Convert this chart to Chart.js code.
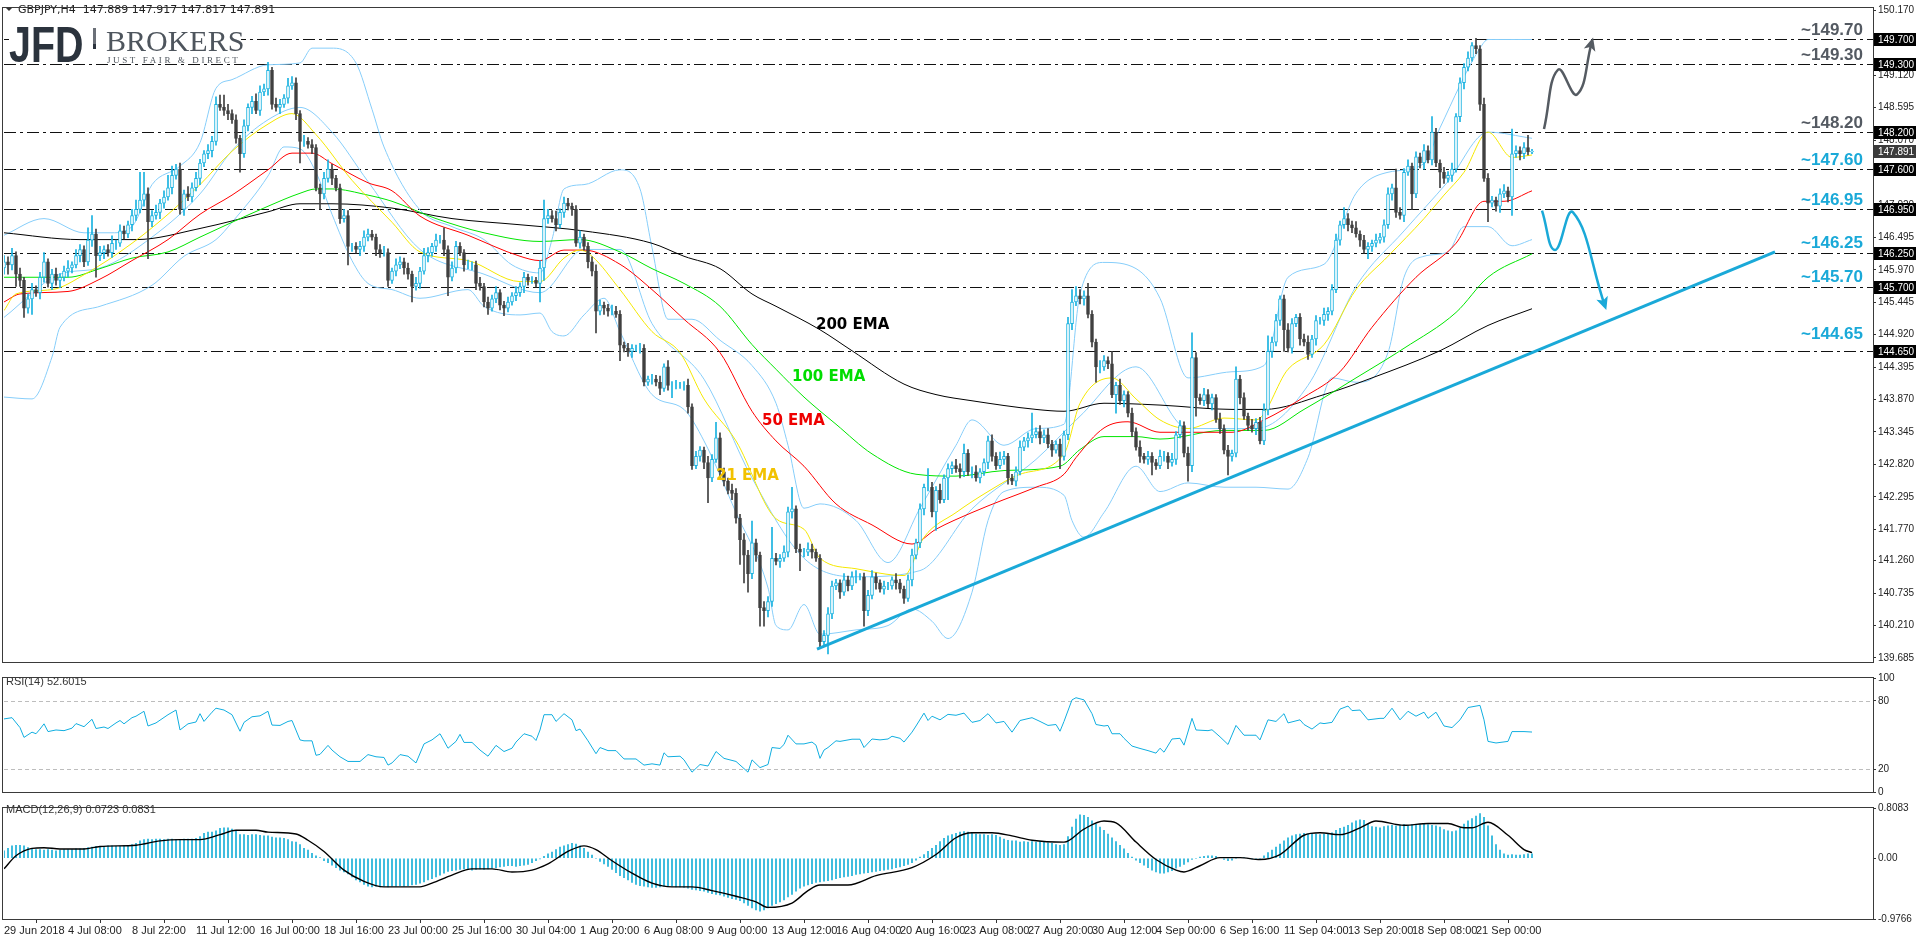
<!DOCTYPE html>
<html><head><meta charset="utf-8">
<script src="https://cdn.jsdelivr.net/npm/chart.js@4/dist/chart.umd.min.js"></script>
<style>
html,body{margin:0;padding:0;background:#fff;width:1916px;height:936px;overflow:hidden}
canvas{position:absolute;left:0}
</style></head><body>
<canvas id="cMain" width="1916" height="670" style="top:0"></canvas>
<canvas id="cRsi" width="1916" height="130" style="top:670px"></canvas>
<canvas id="cMacd" width="1916" height="136" style="top:800px"></canvas>
<script>
// ---------------- DATA ----------------
const firstOpen = 146.00;
const closes = [
146.10,146.05,146.20,145.90,145.80,145.35,145.50,145.65,145.60,145.85,146.10,145.75,145.90,145.80,145.85,145.95,146.00,146.05,146.20,146.30,
146.10,146.45,146.55,146.20,146.25,146.30,146.25,146.40,146.40,146.60,146.55,146.70,146.85,146.95,147.10,147.20,146.75,146.85,146.90,147.05,
147.15,147.30,147.50,147.60,146.95,147.20,147.15,147.30,147.45,147.70,147.85,147.90,148.05,148.65,148.60,148.55,148.50,148.40,148.10,147.85,
148.30,148.60,148.70,148.55,148.85,148.90,149.20,148.65,148.60,148.65,148.75,148.95,149.00,148.50,148.05,148.05,148.00,147.95,147.30,147.20,
147.45,147.60,147.45,147.30,146.80,146.85,146.35,146.35,146.30,146.35,146.50,146.55,146.50,146.30,146.25,146.25,145.80,145.95,146.05,146.10,
146.00,145.90,145.70,145.75,145.95,146.20,146.25,146.35,146.45,146.45,146.30,145.85,146.00,146.35,146.25,146.05,146.05,146.05,145.75,145.70,
145.45,145.35,145.50,145.60,145.40,145.35,145.45,145.55,145.60,145.70,145.85,145.80,145.80,145.75,146.00,146.80,146.85,146.80,146.70,146.90,
147.05,147.00,146.95,146.40,146.50,146.35,146.10,145.95,145.30,145.40,145.35,145.30,145.30,145.25,144.75,144.70,144.65,144.70,144.70,144.70,
144.15,144.20,144.20,144.15,144.05,144.40,144.10,144.10,144.10,144.10,144.10,143.75,142.80,142.95,143.05,142.85,142.60,142.90,143.25,142.70,
142.55,142.40,142.35,141.95,141.60,141.35,141.05,141.55,141.35,140.50,140.45,140.60,141.30,141.25,141.30,141.40,142.05,142.10,141.45,141.40,
141.40,141.45,141.40,141.30,139.95,140.05,140.40,140.85,140.90,140.75,140.95,140.85,141.00,141.00,141.00,140.45,140.70,141.00,140.90,140.80,
140.85,140.85,140.95,140.90,140.80,140.65,140.95,141.35,141.55,142.10,142.45,142.45,142.05,142.40,142.25,142.60,142.75,142.80,142.75,142.70,
143.00,142.70,142.70,142.60,142.70,142.85,143.20,142.95,142.80,142.90,142.95,142.60,142.55,142.70,143.10,143.20,143.25,143.30,143.35,143.25,
143.30,143.15,143.05,143.15,142.95,143.30,145.10,145.45,145.55,145.50,145.55,145.25,144.80,144.40,144.40,144.50,144.45,143.95,144.10,143.85,
143.95,143.65,143.35,143.10,142.95,142.90,142.95,142.85,142.80,142.95,142.95,142.85,142.90,143.30,143.45,143.00,142.80,144.55,143.90,143.85,
143.95,143.80,143.90,143.55,143.40,143.05,142.95,143.00,144.20,143.90,143.60,143.45,143.40,143.50,143.20,143.70,144.65,144.80,145.15,145.50,
145.00,144.70,145.10,145.20,144.85,144.80,144.60,144.85,145.15,145.15,145.25,145.30,145.65,146.45,146.70,146.80,146.70,146.65,146.55,146.45,
146.30,146.35,146.40,146.45,146.50,146.70,147.20,147.30,146.90,146.85,147.55,147.65,147.20,147.80,147.70,147.90,147.75,148.20,147.70,147.55,
147.45,147.50,147.60,148.45,149.00,149.25,149.40,149.60,149.55,148.65,147.45,147.05,147.10,147.00,147.20,147.25,147.15,147.85,147.90,147.85,
147.95,147.88,147.891];
const wickUp = [
.10,.08,.12,.06,.10,.05,.08,.10,.06,.08,.15,.05,.08,.10,.06,.08,.12,.05,.10,.08,
.06,.20,.30,.08,.10,.06,.08,.12,.05,.10,.08,.06,.10,.15,.45,.35,.10,.08,.12,.06,
.10,.20,.15,.08,.10,.06,.12,.08,.10,.06,.05,.10,.08,.12,.15,.20,.10,.06,.08,.05,
.10,.06,.08,.12,.10,.08,.13,.05,.10,.08,.06,.12,.10,.08,.05,.10,.06,.08,.05,.06,
.10,.15,.08,.05,.06,.10,.08,.05,.06,.08,.10,.08,.06,.05,.08,.10,.06,.05,.10,.08,
.06,.08,.05,.10,.06,.12,.08,.05,.10,.08,.20,.06,.10,.08,.06,.05,.08,.05,.06,.10,
.05,.08,.06,.10,.05,.06,.08,.05,.10,.06,.08,.05,.06,.05,.12,.30,.10,.08,.12,.06,
.10,.08,.05,.06,.10,.05,.06,.08,.10,.08,.05,.06,.10,.08,.06,.05,.08,.06,.05,.08,
.06,.05,.08,.06,.10,.05,.10,.06,.08,.05,.06,.10,.05,.08,.06,.05,.10,.08,.25,.08,
.06,.05,.10,.08,.06,.10,.08,.35,.06,.05,.10,.08,.50,.08,.06,.10,.08,.35,.05,.08,
.06,.10,.08,.05,.06,.08,.10,.08,.06,.05,.10,.06,.08,.10,.05,.06,.08,.10,.06,.05,
.08,.06,.05,.10,.06,.05,.08,.10,.06,.08,.05,.30,.08,.06,.10,.05,.08,.06,.10,.08,
.15,.06,.08,.10,.05,.06,.08,.10,.06,.12,.08,.05,.06,.08,.10,.06,.08,.35,.06,.10,
.08,.10,.06,.05,.08,.06,.10,.20,.15,.10,.08,.20,.06,.05,.10,.08,.06,.20,.05,.10,
.06,.05,.08,.06,.10,.05,.08,.06,.05,.10,.08,.06,.10,.05,.08,.06,.10,.40,.08,.06,
.10,.08,.06,.05,.10,.06,.08,.05,.20,.06,.08,.05,.10,.06,.08,.10,.25,.08,.10,.05,
.06,.10,.08,.05,.06,.08,.10,.06,.08,.05,.10,.06,.08,.10,.06,.18,.08,.06,.10,.05,
.08,.06,.05,.10,.06,.08,.10,.06,.30,.08,.06,.10,.05,.08,.06,.10,.08,.25,.06,.05,
.08,.06,.10,.05,.08,.06,.10,.05,.12,.05,.10,.08,.06,.05,.08,.10,.06,.40,.08,.06,
.08,.20,.03];
const wickDn = [
.10,.15,.08,.20,.10,.15,.08,.25,.06,.10,.08,.06,.10,.08,.12,.06,.10,.08,.05,.10,
.08,.06,.10,.35,.08,.10,.06,.08,.10,.05,.08,.06,.10,.08,.06,.10,.60,.08,.06,.10,
.08,.05,.10,.06,.08,.10,.06,.08,.05,.10,.06,.08,.10,.06,.05,.08,.10,.06,.08,.30,
.06,.08,.10,.05,.08,.06,.10,.08,.06,.10,.05,.08,.06,.10,.35,.08,.06,.10,.05,.25,
.08,.06,.10,.05,.08,.06,.30,.08,.06,.10,.08,.06,.05,.10,.08,.06,.10,.05,.08,.06,
.10,.08,.25,.06,.08,.05,.10,.06,.08,.05,.10,.30,.06,.08,.05,.10,.06,.08,.10,.06,
.08,.10,.05,.06,.08,.12,.06,.05,.08,.06,.10,.08,.05,.06,.30,.20,.08,.06,.10,.05,
.08,.06,.10,.05,.08,.06,.10,.08,.35,.06,.10,.08,.06,.05,.25,.06,.08,.10,.05,.08,
.06,.05,.08,.06,.10,.05,.08,.20,.06,.05,.08,.10,.06,.05,.08,.10,.40,.06,.05,.10,
.08,.06,.10,.08,.40,.45,.30,.08,.10,.30,.25,.10,.08,.06,.10,.05,.08,.10,.06,.30,
.08,.06,.10,.05,.10,.06,.30,.08,.06,.10,.05,.08,.06,.10,.05,.25,.08,.06,.10,.05,
.08,.06,.05,.10,.06,.08,.05,.10,.06,.08,.10,.06,.08,.30,.06,.05,.35,.08,.06,.10,
.08,.06,.10,.05,.08,.06,.10,.08,.06,.05,.08,.10,.06,.08,.05,.06,.10,.08,.05,.10,
.08,.06,.10,.05,.20,.06,.08,.10,.06,.08,.10,.06,.08,.25,.10,.06,.08,.05,.30,.06,
.10,.06,.08,.05,.10,.06,.08,.20,.06,.05,.08,.10,.06,.08,.05,.06,.25,.10,.30,.06,
.08,.06,.10,.05,.08,.06,.30,.08,.06,.10,.05,.08,.06,.10,.05,.06,.08,.10,.06,.08,
.35,.06,.08,.05,.10,.06,.08,.05,.10,.06,.08,.10,.06,.05,.08,.06,.10,.08,.05,.10,
.06,.15,.08,.06,.05,.08,.06,.10,.08,.06,.10,.05,.25,.06,.08,.10,.05,.08,.06,.25,
.08,.06,.10,.05,.08,.10,.06,.05,.08,.10,.05,.30,.06,.08,.10,.06,.08,.30,.06,.10,
.08,.05,.03];

const ema200Idx = [0,19,33,49,66,74,82,97,112,129,145,162,170,179,187,193,204,212,225,233,242,258,265,275,289,307,315,330,342,359,371,382];
const ema200Val = [146.57,146.46,146.46,146.64,146.91,147.04,147.04,146.97,146.80,146.70,146.60,146.40,146.19,145.99,145.58,145.38,145.0,144.66,144.12,143.95,143.85,143.71,143.68,143.81,143.78,143.71,143.71,143.95,144.22,144.66,145.07,145.34];
const ema100Idx = [0,16,24,32,41,49,57,66,74,78,82,91,97,108,120,134,144,154,162,170,179,187,193,200,208,217,228,238,250,264,269,275,283,289,305,315,325,338,350,363,371,382];
const ema100Val = [145.85,145.85,145.99,146.16,146.26,146.50,146.74,147.00,147.21,147.28,147.28,147.18,147.08,146.80,146.57,146.43,146.46,146.26,145.99,145.75,145.38,144.76,144.36,143.91,143.47,142.99,142.66,142.63,142.72,142.79,143.06,143.27,143.27,143.23,143.37,143.37,143.71,144.22,144.70,145.28,145.85,146.23];
const ema50Idx = [0,4,16,24,32,41,49,57,66,72,77,82,91,97,104,116,129,134,140,145,154,162,170,179,187,193,200,208,217,227,233,242,250,258,265,268,275,281,289,296,307,315,325,334,342,353,363,370,375,382];
const ema50Val = [145.45,145.58,145.62,145.82,146.12,146.46,146.87,147.18,147.59,147.86,147.86,147.69,147.38,147.25,146.84,146.53,146.19,146.12,146.29,146.29,146.06,145.65,145.17,144.63,143.68,143.20,142.79,142.18,141.84,141.53,141.77,142.04,142.25,142.45,142.66,142.93,143.41,143.51,143.34,143.34,143.34,143.54,143.91,144.32,145.04,145.85,146.40,147.08,147.08,147.25];
const ema21Idx = [0,3,12,20,32,41,49,57,66,72,78,87,97,104,116,129,134,140,144,147,154,162,169,175,183,193,200,204,213,225,230,238,246,254,265,269,277,283,289,296,305,313,321,330,338,346,355,360,365,371,377,382];
const ema21Val = [145.31,145.58,145.65,145.89,146.40,146.87,147.35,147.89,148.33,148.50,148.16,147.42,146.74,146.26,146.12,145.78,145.78,146.16,146.29,146.19,145.65,144.97,144.63,143.88,143.20,141.94,141.77,141.30,141.13,141.02,141.64,142.04,142.38,142.66,142.99,143.81,144.22,143.88,143.54,143.40,143.57,143.54,144.36,144.76,145.65,146.19,146.80,147.18,147.55,148.20,147.79,147.83];
const bbUpIdx = [0,10,20,27,32,37,44,49,53,57,66,74,77,82,88,92,95,104,112,120,127,134,137,140,145,154,159,162,166,172,179,187,193,196,200,204,213,221,229,238,242,250,258,265,269,275,283,289,296,307,315,321,330,338,346,355,359,369,371,382];
const bbUpVal = [146.53,146.80,146.57,146.57,146.67,147.35,147.65,148.03,148.91,149.05,149.29,149.32,149.56,149.56,149.32,148.57,147.96,146.94,146.67,146.46,146.05,145.92,146.46,147.28,147.35,147.59,147.28,146.33,145.17,145.17,144.83,144.42,143.81,143.13,142.11,142.18,141.91,141.23,142.11,143.13,143.54,143.13,143.40,143.47,145.58,146.09,145.99,145.51,144.22,144.32,144.42,145.85,146.06,147.21,147.55,147.69,148.27,149.56,149.70,149.70];
const bbMidIdx = [0,14,24,37,49,57,66,74,82,91,104,120,134,145,154,162,175,187,200,213,229,242,258,269,283,296,313,326,338,350,361,371,382];
const bbMidVal = [145.20,145.90,146.00,146.50,147.20,147.90,148.40,148.60,148.20,147.40,146.30,145.90,145.60,146.30,146.30,145.10,144.20,142.60,141.30,141.00,141.10,142.10,142.90,143.60,144.40,143.40,143.40,144.10,145.70,146.60,147.40,148.20,148.10];
const bbLoIdx = [0,7,12,14,24,37,45,53,57,66,70,74,78,82,87,91,97,104,116,120,129,134,137,140,145,150,154,162,170,175,183,191,193,196,200,204,213,221,227,232,236,242,246,250,258,265,267,270,275,283,289,296,305,313,321,326,332,338,346,350,355,361,365,371,377,382];
const bbLoVal = [143.91,143.88,144.56,145.04,145.38,145.72,146.19,146.46,146.74,147.49,147.96,147.93,147.55,146.87,146.12,145.75,145.65,145.51,145.65,145.38,145.24,145.27,144.97,144.90,145.24,145.51,144.97,143.95,143.71,143.20,142.04,140.82,140.21,140.14,140.55,140.07,140.14,140.21,140.48,140.28,140.00,140.75,141.91,142.38,142.45,142.32,141.91,141.64,142.04,142.79,142.38,142.52,142.45,142.45,142.42,142.93,144.22,144.15,144.63,145.85,146.19,146.26,146.67,146.67,146.36,146.46];

const rsiIdx = [0,2,4,5,7,8,9,10,11,13,15,17,18,20,22,23,25,26,28,29,30,32,33,35,36,38,40,41,43,44,46,48,49,50,52,53,55,57,59,60,62,64,66,67,69,71,72,74,75,77,78,79,81,82,84,86,89,91,93,95,96,97,99,101,103,105,107,109,110,111,113,114,115,117,119,121,123,125,127,128,130,132,133,134,135,137,138,140,142,143,144,146,148,149,151,153,155,158,160,162,164,165,166,169,170,172,174,176,178,180,183,186,187,189,191,192,194,195,196,198,200,202,203,204,205,206,208,209,212,214,215,217,219,221,222,224,225,227,228,230,231,232,234,236,238,240,242,244,246,248,250,252,254,257,259,261,263,264,265,267,268,270,272,273,275,276,277,279,280,282,284,286,288,289,290,292,294,295,297,298,301,302,304,306,308,310,313,314,316,318,320,321,324,325,327,329,330,332,334,336,337,339,341,344,345,347,349,351,353,355,356,358,360,362,364,366,369,370,371,373,376,377,380,382];
const rsiVal = [64.1,65.2,56.5,47.9,52.5,51.1,55.2,59.8,53.0,54.4,53.8,56.0,60.0,57.3,63.8,55.7,57.0,55.7,60.6,62.7,59.8,65.2,66.5,70.8,57.9,60.6,65.4,67.8,71.9,54.4,59.8,61.4,68.7,61.9,70.0,73.5,71.9,67.8,53.3,61.1,66.0,66.8,70.8,58.7,58.4,61.9,62.7,45.7,44.9,44.9,32.2,33.0,40.9,36.8,30.9,26.8,26.8,32.8,30.9,30.3,23.6,25.5,32.8,31.4,25.5,42.2,45.7,51.1,44.9,38.4,44.4,50.6,43.5,43.5,36.8,31.4,40.9,35.5,38.4,43.8,51.1,48.9,45.2,54.4,67.8,67.8,61.9,68.7,63.3,53.8,55.2,44.9,33.6,39.0,36.3,36.3,29.0,29.0,23.6,24.7,23.6,34.4,30.9,31.4,28.2,17.4,24.1,22.8,35.5,29.5,26.8,17.4,28.2,21.4,24.1,39.0,38.2,41.7,49.8,42.2,42.2,43.8,41.1,29.5,36.8,39.0,44.9,44.4,46.3,46.3,39.0,46.5,45.7,46.5,48.9,47.1,43.8,52.5,57.9,69.2,62.7,66.5,63.3,68.1,67.3,69.2,61.1,62.7,68.7,60.6,61.9,52.5,62.7,65.2,61.9,58.4,59.2,53.3,61.9,80.8,82.7,80.8,68.7,59.2,57.9,58.4,51.1,51.1,47.1,40.3,38.2,36.3,34.1,38.4,34.9,46.5,47.1,41.1,64.6,54.4,53.8,54.6,48.4,41.7,58.4,49.8,49.8,45.7,63.3,61.9,68.7,60.6,63.3,59.2,55.2,60.6,60.0,61.1,72.7,75.4,71.4,71.9,63.3,64.6,64.6,73.5,63.3,70.8,66.5,70.0,64.6,70.0,57.9,56.5,63.3,74.1,76.0,63.3,44.4,43.0,44.4,53.0,53.0,52.6];

const macdHist = [
0.12,0.16,0.20,0.21,0.21,0.20,0.17,0.15,0.14,0.14,0.13,0.14,0.13,0.12,0.13,0.14,
0.14,0.14,0.15,0.15,0.16,0.17,0.18,0.19,0.19,0.19,0.20,0.20,0.19,0.19,0.20,0.21,
0.22,0.24,0.28,0.30,0.31,0.30,0.31,0.31,0.30,0.31,0.31,0.30,0.30,0.31,0.31,0.31,
0.32,0.35,0.40,0.42,0.42,0.44,0.48,0.49,0.49,0.47,0.44,0.38,0.38,0.37,0.38,0.38,
0.37,0.36,0.36,0.34,0.33,0.33,0.32,0.30,0.27,0.26,0.22,0.16,0.13,0.08,0.04,0.01,
-0.04,-0.07,-0.11,-0.15,-0.19,-0.22,-0.25,-0.30,-0.35,-0.38,-0.42,-0.45,-0.46,-0.45,-0.46,-0.45,
-0.46,-0.45,-0.45,-0.44,-0.45,-0.44,-0.43,-0.42,-0.40,-0.38,-0.35,-0.33,-0.30,-0.27,-0.24,-0.21,
-0.20,-0.19,-0.18,-0.17,-0.18,-0.19,-0.18,-0.17,-0.18,-0.17,-0.16,-0.15,-0.14,-0.13,-0.12,-0.12,
-0.13,-0.12,-0.11,-0.10,-0.07,-0.04,-0.01,0.03,0.07,0.10,0.14,0.18,0.20,0.22,0.24,0.23,
0.20,0.16,0.10,0.05,0.00,-0.05,-0.09,-0.13,-0.18,-0.23,-0.28,-0.31,-0.35,-0.39,-0.42,-0.44,
-0.45,-0.46,-0.47,-0.47,-0.46,-0.45,-0.44,-0.45,-0.46,-0.46,-0.47,-0.48,-0.50,-0.51,-0.52,-0.53,
-0.55,-0.57,-0.58,-0.59,-0.61,-0.63,-0.65,-0.66,-0.68,-0.72,-0.76,-0.80,-0.83,-0.85,-0.83,-0.80,
-0.76,-0.73,-0.70,-0.67,-0.62,-0.58,-0.53,-0.48,-0.45,-0.43,-0.41,-0.39,-0.38,-0.37,-0.36,-0.35,
-0.33,-0.31,-0.30,-0.29,-0.28,-0.26,-0.25,-0.24,-0.23,-0.22,-0.21,-0.20,-0.19,-0.18,-0.17,-0.15,
-0.14,-0.12,-0.10,-0.07,-0.03,0.02,0.06,0.11,0.16,0.21,0.27,0.32,0.36,0.38,0.40,0.42,
0.43,0.42,0.40,0.39,0.38,0.38,0.37,0.38,0.37,0.34,0.31,0.29,0.28,0.28,0.26,0.27,
0.26,0.27,0.26,0.27,0.26,0.25,0.24,0.22,0.21,0.22,0.35,0.50,0.63,0.70,0.69,0.66,
0.60,0.55,0.50,0.45,0.39,0.33,0.27,0.21,0.15,0.08,0.02,-0.03,-0.07,-0.11,-0.15,-0.19,
-0.22,-0.24,-0.24,-0.22,-0.20,-0.16,-0.13,-0.10,-0.06,-0.02,0.00,0.02,0.03,0.04,0.04,0.03,
0.01,-0.02,-0.04,-0.03,0.00,0.01,0.01,0.00,-0.01,-0.02,0.00,0.04,0.09,0.13,0.18,0.23,
0.28,0.33,0.36,0.38,0.39,0.40,0.39,0.40,0.39,0.38,0.39,0.39,0.41,0.45,0.48,0.50,
0.53,0.57,0.60,0.62,0.61,0.55,0.51,0.50,0.49,0.51,0.52,0.53,0.52,0.53,0.54,0.53,
0.54,0.53,0.54,0.55,0.54,0.53,0.52,0.50,0.46,0.44,0.43,0.44,0.48,0.55,0.60,0.64,
0.68,0.72,0.66,0.52,0.36,0.22,0.13,0.07,0.05,0.06,0.05,0.05,0.06,0.07,0.07];
const sigIdx = [0,3,7,10,14,20,24,33,39,44,49,54,58,63,66,73,76,80,85,90,95,104,107,112,117,122,127,132,136,141,145,148,152,157,162,167,172,177,183,188,191,197,201,204,211,218,227,233,238,242,247,252,257,265,270,275,278,283,288,293,295,299,304,309,314,319,325,329,334,339,343,350,356,361,365,367,371,376,380,382];
const sigVal = [-0.17,0.04,0.16,0.17,0.15,0.15,0.19,0.21,0.28,0.30,0.30,0.38,0.45,0.45,0.42,0.39,0.29,0.11,-0.19,-0.37,-0.46,-0.46,-0.40,-0.27,-0.17,-0.17,-0.22,-0.19,-0.09,0.11,0.20,0.14,-0.04,-0.24,-0.40,-0.46,-0.46,-0.52,-0.61,-0.70,-0.79,-0.72,-0.52,-0.43,-0.43,-0.28,-0.15,0.06,0.33,0.41,0.41,0.36,0.29,0.26,0.47,0.60,0.57,0.26,-0.02,-0.19,-0.22,-0.12,0.01,0.01,-0.02,0.06,0.37,0.41,0.38,0.49,0.60,0.53,0.56,0.56,0.49,0.49,0.58,0.37,0.14,0.09];

const priceTicks = [150.170,149.645,149.120,148.595,148.070,147.545,147.020,146.495,145.970,145.445,144.920,144.395,143.870,143.345,142.820,142.295,141.770,141.260,140.735,140.210,139.685];
const levels = [149.70,149.30,148.20,147.60,146.95,146.25,145.70,144.65];
const levelTags = ["~149.70","~149.30","~148.20","~147.60","~146.95","~146.25","~145.70","~144.65"];
const lastPrice = 147.891;
const timeTickIdx = [0,16,32,48,64,80,96,112,128,144,160,176,192,208,224,240,256,272,288,304,320,336,352,368];
const timeLabels = ["29 Jun 2018","4 Jul 08:00","8 Jul 22:00","11 Jul 12:00","16 Jul 00:00","18 Jul 16:00","23 Jul 00:00","25 Jul 16:00","30 Jul 04:00","1 Aug 20:00","6 Aug 08:00","9 Aug 00:00","13 Aug 12:00","16 Aug 04:00","20 Aug 16:00","23 Aug 08:00","27 Aug 20:00","30 Aug 12:00","4 Sep 00:00","6 Sep 16:00","11 Sep 04:00","13 Sep 20:00","18 Sep 08:00","21 Sep 00:00"];
const trendIdx = [203.25,442.75];
const trendVal = [139.83,146.26];
const upArrowIdx = [385,388.5,393.25,397];
const upArrowVal = [148.25,149.21,148.81,149.67];
const dnArrowIdx = [384.5,387.75,392.25,400.25];
const dnArrowVal = [146.93,146.29,146.90,145.38];
const emaLabels = ["200 EMA","100 EMA","50 EMA","21 EMA"];
const emaLabelIdx = [203,197,189.5,178];
const emaLabelVal = [145.07,144.24,143.52,142.63];

// ---------------- SETUP ----------------
Chart.defaults.font.family = '"Liberation Sans", Arial, sans-serif';
Chart.defaults.font.size = 10;
Chart.defaults.color = '#222';
const CYAN = '#19b2e0', DARK = '#404040';
const XMAX = 467.25;
const pts = (idx, vals) => idx.map((x, k) => ({x, y: vals[k]}));
const opens = closes.map((c, i) => i === 0 ? firstOpen : closes[i - 1]);
const bull = closes.map((c, i) => c >= opens[i]);

function lineDs(idx, vals, color, w, order, mode) {
  return {type: 'line', data: pts(idx, vals), borderColor: color, borderWidth: w, pointRadius: 0,
    cubicInterpolationMode: mode || 'monotone', tension: 0, order, fill: false};
}
function frame(chart) {
  const a = chart.chartArea, c = chart.ctx;
  c.save(); c.strokeStyle = '#3a3a3a'; c.lineWidth = 1;
  c.strokeRect(Math.floor(a.left) - 1.5, Math.floor(a.top) - 0.5, Math.round(a.right - a.left) + 2, Math.round(a.bottom - a.top) + 1);
  c.restore();
}
const xScale = (show) => ({type: 'linear', min: 0, max: XMAX, offset: false, display: show,
  grid: {display: false}, border: {display: false}});

// ---------------- MAIN ----------------
const mainPlugin = {
  id: 'mainDeco',
  beforeDatasetsDraw(chart) {
    const c = chart.ctx, a = chart.chartArea, y = chart.scales.y;
    c.save(); c.strokeStyle = '#111'; c.lineWidth = 1; c.setLineDash([12, 4, 3, 4]);
    levels.forEach(l => { const py = Math.round(y.getPixelForValue(l)) + 0.5;
      c.beginPath(); c.moveTo(a.left, py); c.lineTo(a.right, py); c.stroke(); });
    c.restore();
  },
  afterDraw(chart) {
    const c = chart.ctx, a = chart.chartArea, y = chart.scales.y, x = chart.scales.x;
    // arrowheads
    [[4, '#555b62'], [5, '#1aa9d8']].forEach(([di, col]) => {
      const m = chart.getDatasetMeta(di).data; const p2 = m[m.length - 1], p1 = m[m.length - 2];
      const ang = Math.atan2(p2.y - p1.y, p2.x - p1.x);
      c.save(); c.translate(p2.x, p2.y); c.rotate(ang); c.fillStyle = col;
      c.beginPath(); c.moveTo(4, 0); c.lineTo(-9, -6); c.lineTo(-6, 0); c.lineTo(-9, 6); c.closePath(); c.fill(); c.restore();
    });
    // EMA labels
    const emaCols = ['#000', '#00dd00', '#ee0000', '#f2c200'];
    c.save(); c.font = 'bold 15px "DejaVu Sans", sans-serif'; c.textBaseline = 'middle';
    emaLabels.forEach((t, k) => { c.fillStyle = emaCols[k];
      c.fillText(t, x.getPixelForValue(emaLabelIdx[k]), y.getPixelForValue(emaLabelVal[k])); });
    c.restore();
    // level tags
    c.save(); c.font = 'bold 17px "Liberation Sans", Arial, sans-serif'; c.textAlign = 'right'; c.textBaseline = 'middle';
    levels.forEach((l, k) => { c.fillStyle = k < 3 ? '#545a62' : '#1aa9d8';
      c.fillText(levelTags[k], 1863, y.getPixelForValue(l) - (k === 7 ? 17 : 9)); });
    c.restore();
    // price boxes
    c.save(); c.font = '10px "Liberation Sans", Arial, sans-serif'; c.textBaseline = 'middle';
    const box = (v, col) => { const py = Math.round(y.getPixelForValue(v));
      c.fillStyle = col; c.fillRect(a.right + 1, py - 6, 1916 - a.right - 1, 13);
      c.fillStyle = '#fff'; c.fillText(v.toFixed(3), a.right + 5, py + 1); };
    levels.forEach(l => box(l, '#000'));
    box(lastPrice, '#3c3c3c');
    c.restore();
    // logo
    c.save(); c.fillStyle = '#fff'; c.fillRect(9, 24, 232, 40);
    c.fillStyle = '#2b333d'; c.font = 'bold 47px "Liberation Sans", Arial, sans-serif'; c.textBaseline = 'alphabetic';
    c.save(); c.translate(9, 62); c.scale(0.84, 1.08); c.fillText('JFD', 0, 0); c.restore();
    c.fillStyle = '#6b7078'; c.fillRect(93, 28, 3, 20); c.fillStyle = '#2b333d'; c.fillRect(93, 44, 3, 5);
    c.fillStyle = '#4e555d'; c.font = '30px "Liberation Serif", serif'; c.fillText('BROKERS', 106, 51);
    c.font = '9px "Liberation Serif", serif'; c.letterSpacing = '2.6px'; c.fillText('JUST FAIR & DIRECT', 107, 63);
    c.restore();
    // header
    c.save(); c.fillStyle = '#333';
    c.beginPath(); c.moveTo(6, 8); c.lineTo(12, 8); c.lineTo(9, 11); c.closePath(); c.fill();
    c.font = '11px "DejaVu Sans", sans-serif'; c.fillStyle = '#222'; c.textBaseline = 'middle';
    c.fillText('GBPJPY,H4  147.889 147.917 147.817 147.891', 18, 10);
    c.restore();
    frame(chart);
  }
};

new Chart(document.getElementById('cMain'), {
  type: 'line',
  data: {datasets: [
    {type: 'line', data: pts(trendIdx, trendVal), borderColor: '#1aa9d8', borderWidth: 3, pointRadius: 0, order: 0},
    {type: 'bar', data: closes.map((c, i) => ({x: i, y: [opens[i], c]})), grouped: false, barThickness: 3,
      backgroundColor: bull.map(b => b ? '#ffffff' : DARK), borderColor: bull.map(b => b ? CYAN : DARK),
      borderWidth: 1, borderSkipped: false, order: 1},
    {type: 'bar', data: closes.map((c, i) => ({x: i, y: [Math.min(c, opens[i]) - wickDn[i], Math.max(c, opens[i]) + wickUp[i]]})),
      grouped: false, barThickness: 1, backgroundColor: bull.map(b => b ? CYAN : DARK), borderWidth: 0, order: 2},
    lineDs(ema21Idx, ema21Val, '#f5e800', 1, 3),
    Object.assign(lineDs(upArrowIdx, upArrowVal, '#555b62', 2.5, 0, 'default'), {tension: 0.45}),
    Object.assign(lineDs(dnArrowIdx, dnArrowVal, '#1aa9d8', 2.5, 0, 'default'), {tension: 0.45}),
    lineDs(ema50Idx, ema50Val, '#ff0000', 1, 3),
    lineDs(ema100Idx, ema100Val, '#00e600', 1, 3),
    lineDs(ema200Idx, ema200Val, '#000000', 1, 3),
    lineDs(bbUpIdx, bbUpVal, '#87cefa', 1, 4),
    lineDs(bbMidIdx, bbMidVal, '#87cefa', 1, 4),
    lineDs(bbLoIdx, bbLoVal, '#87cefa', 1, 4)
  ]},
  options: {
    animation: false, responsive: false, devicePixelRatio: 1,
    layout: {padding: {left: 4, top: 4, right: 0, bottom: 1}},
    plugins: {legend: {display: false}, tooltip: {enabled: false}},
    scales: {
      x: xScale(false),
      y: {position: 'right', min: 139.62, max: 150.21,
        afterFit: s => { s.width = 43; },
        afterBuildTicks: s => { s.ticks = priceTicks.map(v => ({value: v})); },
        grid: {drawOnChartArea: false, tickLength: 3, color: '#333'}, border: {display: false},
        ticks: {callback: v => v.toFixed(3), padding: 2, font: {size: 10}, color: '#222'}}
    }
  },
  plugins: [mainPlugin]
});

// ---------------- RSI ----------------
new Chart(document.getElementById('cRsi'), {
  type: 'line',
  data: {datasets: [lineDs(rsiIdx, rsiVal, '#10aee0', 1, 0, 'default')]},
  options: {
    animation: false, responsive: false, devicePixelRatio: 1,
    layout: {padding: {left: 4, top: 3, right: 0, bottom: 2}},
    plugins: {legend: {display: false}, tooltip: {enabled: false}},
    scales: {
      x: xScale(false),
      y: {position: 'right', min: 0, max: 100,
        afterFit: s => { s.width = 43; },
        afterBuildTicks: s => { s.ticks = [0, 20, 80, 100].map(v => ({value: v})); },
        grid: {drawOnChartArea: false, tickLength: 3, color: '#333'}, border: {display: false},
        ticks: {padding: 2, font: {size: 10}, color: '#222'}}
    }
  },
  plugins: [{id: 'rsiDeco',
    beforeDatasetsDraw(chart) {
      const c = chart.ctx, a = chart.chartArea, y = chart.scales.y;
      c.save(); c.strokeStyle = '#bdbdbd'; c.setLineDash([4, 3]); c.lineWidth = 1;
      [20, 80].forEach(v => { const py = Math.round(y.getPixelForValue(v)) + 0.5;
        c.beginPath(); c.moveTo(a.left, py); c.lineTo(a.right, py); c.stroke(); });
      c.restore();
    },
    afterDraw(chart) {
      const c = chart.ctx; c.save(); c.font = '11px "Liberation Sans", Arial, sans-serif'; c.fillStyle = '#333';
      c.textBaseline = 'middle'; c.fillText('RSI(14) 52.6015', 6, 12); c.restore(); frame(chart);
    }}]
});

// ---------------- MACD ----------------
new Chart(document.getElementById('cMacd'), {
  type: 'line',
  data: {datasets: [
    lineDs(sigIdx, sigVal, '#000000', 1.4, 0),
    {type: 'bar', data: macdHist.map((v, i) => ({x: i, y: v})), grouped: false, barThickness: 1,
      backgroundColor: '#1ab0d8', borderWidth: 0, order: 1}
  ]},
  options: {
    animation: false, responsive: false, devicePixelRatio: 1,
    layout: {padding: {left: 4, top: 2, right: 0, bottom: 0}},
    plugins: {legend: {display: false}, tooltip: {enabled: false}},
    scales: {
      x: {type: 'linear', min: 0, max: XMAX, offset: false,
        afterFit: s => { s.height = 17; },
        afterBuildTicks: s => { s.ticks = timeTickIdx.map(v => ({value: v})); },
        grid: {drawOnChartArea: false, tickLength: 4, color: '#333'}, border: {display: false},
        ticks: {callback: v => timeLabels[timeTickIdx.indexOf(v)], align: 'start', maxRotation: 0, autoSkip: false,
          padding: 1, font: {size: 11}, color: '#222'}},
      y: {position: 'right', min: -0.9766, max: 0.8083,
        afterFit: s => { s.width = 43; },
        afterBuildTicks: s => { s.ticks = [-0.9766, 0, 0.8083].map(v => ({value: v})); },
        grid: {drawOnChartArea: false, tickLength: 3, color: '#333'}, border: {display: false},
        ticks: {callback: v => v === 0 ? '0.00' : v.toFixed(4), padding: 2, font: {size: 10}, color: '#222'}}
    }
  },
  plugins: [{id: 'macdDeco', afterDraw(chart) {
    const c = chart.ctx; c.save(); c.font = '11px "Liberation Sans", Arial, sans-serif'; c.fillStyle = '#333';
    c.textBaseline = 'middle'; c.fillText('MACD(12,26,9) 0.0723 0.0831', 6, 10); c.restore(); frame(chart);
  }}]
});
</script>
</body></html>
